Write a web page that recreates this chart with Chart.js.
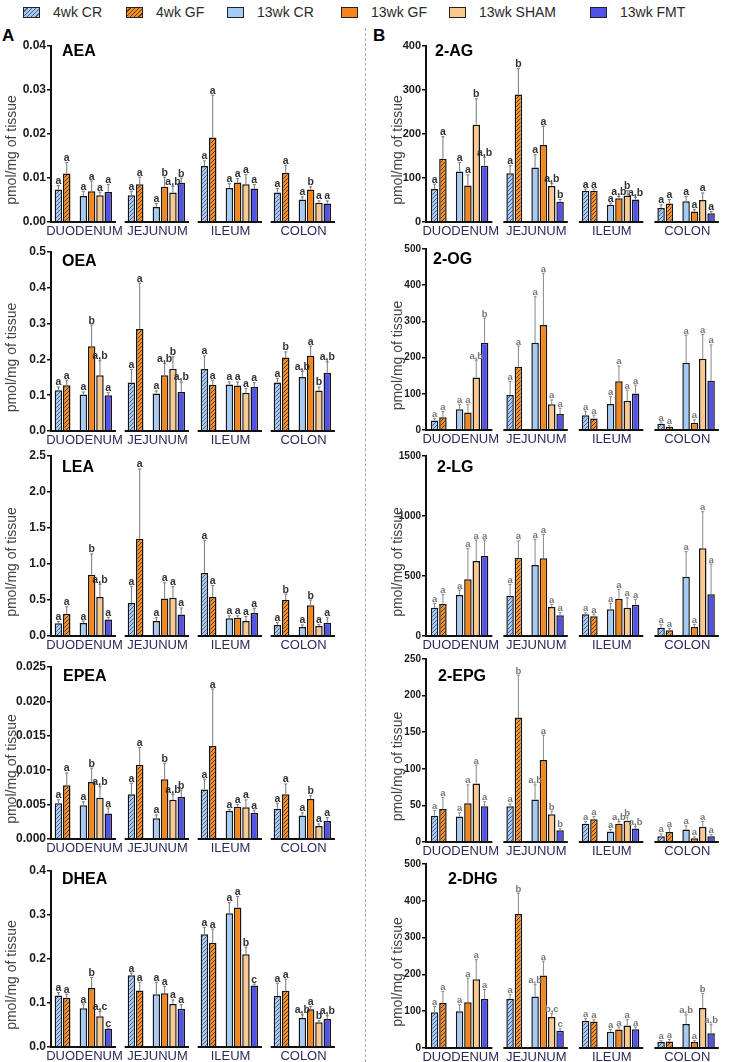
<!DOCTYPE html>
<html><head><meta charset="utf-8">
<script src="https://cdn.jsdelivr.net/npm/chart.js@4.4.0/dist/chart.umd.min.js"></script>
<style>
body{margin:0;background:#fff;width:730px;height:1062px;position:relative;overflow:hidden;font-family:"Liberation Sans",Arial,sans-serif}
canvas{position:absolute}
.lg{position:absolute;top:4px;height:16px;display:flex;align-items:center;font-size:14px;color:#2a2a2a;white-space:nowrap}
.sw{width:15px;height:9px;border:1.5px solid #222;margin-right:13px}
.lab{position:absolute;font-weight:bold;font-size:17px;color:#000}
#sep{position:absolute;left:365px;top:28px;height:1034px;width:0;border-left:1px dashed #aaa}
</style></head><body>
<div id="sep"></div>
<div class="lab" style="left:2px;top:26px">A</div>
<div class="lab" style="left:373px;top:26px">B</div>
<script>
// ---------- shared labels ----------
const categories = ['DUODENUM','JEJUNUM','ILEUM','COLON'];
const seriesNames = ['4wk CR','4wk GF','13wk CR','13wk GF','13wk SHAM','13wk FMT'];

// rows = series (4wk CR, 4wk GF, 13wk CR, 13wk GF, 13wk SHAM, 13wk FMT); cols = categories
// ---------- AEA ----------
const AEA_ticks = ['0.00','0.01','0.02','0.03','0.04'];
const AEA_mean = [[0.0074,0.0061,0.0127,0.0067],[0.0110,0.0086,0.0192,0.0112],[0.0059,0.0034,0.0077,0.0051],[0.0070,0.0080,0.0090,0.0074],[0.0061,0.0067,0.0086,0.0044],[0.0068,0.0089,0.0076,0.0042]];
const AEA_hi = [[0.0083,0.0070,0.0139,0.0076],[0.0135,0.0102,0.0288,0.0129],[0.0070,0.0042,0.0087,0.0057],[0.0093,0.0102,0.0099,0.0080],[0.0068,0.0081,0.0108,0.0048],[0.0085,0.0100,0.0085,0.0048]];
const AEA_sig = [['a','a','a','a'],['a','a','a','a'],['a','a','a','a'],['a','b','a','b'],['a','a,b','a','a'],['a','b','a','a']];
// ---------- OEA ----------
const OEA_ticks = ['0.0','0.1','0.2','0.3','0.4','0.5'];
const OEA_mean = [[0.114,0.1355,0.173,0.1355],[0.128,0.285,0.129,0.205],[0.102,0.105,0.130,0.151],[0.237,0.156,0.127,0.210],[0.156,0.174,0.107,0.113],[0.100,0.109,0.123,0.163]];
const OEA_hi = [[0.123,0.172,0.210,0.147],[0.142,0.413,0.142,0.221],[0.109,0.112,0.137,0.167],[0.296,0.189,0.137,0.237],[0.196,0.207,0.119,0.123],[0.107,0.137,0.135,0.193]];
const OEA_sig = [['a','a','a','a'],['a','a','a','b'],['a','a','a','a,b'],['b','a,b','a','a'],['a,b','b','a','b'],['a','a,b','a','a,b']];
// ---------- LEA ----------
const LEA_ticks = ['0.0','0.5','1.0','1.5','2.0','2.5'];
const LEA_mean = [[0.176,0.458,0.875,0.153],[0.31,1.35,0.54,0.50],[0.18,0.208,0.245,0.125],[0.852,0.52,0.255,0.426],[0.54,0.53,0.208,0.139],[0.23,0.30,0.32,0.185]];
const LEA_hi = [[0.20,0.69,1.33,0.185],[0.407,2.32,0.70,0.583],[0.208,0.255,0.28,0.153],[1.14,0.74,0.28,0.50],[0.72,0.685,0.27,0.162],[0.26,0.39,0.385,0.255]];
const LEA_sig = [['a','a','a','a'],['a','a','a','b'],['a','a','a','a'],['b','a','a','b'],['a,b','a','a','a'],['a','a','a','a']];
// ---------- EPEA ----------
const EPEA_ticks = ['0.000','0.005','0.010','0.015','0.020','0.025'];
const EPEA_mean = [[0.0052,0.0065,0.0072,0.0044],[0.0078,0.0108,0.0135,0.0065],[0.0049,0.0030,0.0041,0.0034],[0.0083,0.0087,0.0047,0.0058],[0.0060,0.0057,0.0046,0.0019],[0.0037,0.0061,0.0038,0.0026]];
const EPEA_hi = [[0.0057,0.0081,0.0087,0.0052],[0.0096,0.0133,0.0218,0.0080],[0.0054,0.0035,0.0043,0.0038],[0.0103,0.0110,0.0050,0.0063],[0.0076,0.0065,0.0057,0.0022],[0.0045,0.0071,0.0042,0.0031]];
const EPEA_sig = [['a','a','a','a'],['a','a','a','a'],['a','a','a','a'],['b','b','a','b'],['a,b','a,b','a','a'],['a','b','a','a']];
// ---------- DHEA ----------
const DHEA_ticks = ['0.0','0.1','0.2','0.3','0.4'];
const DHEA_mean = [[0.117,0.163,0.256,0.116],[0.112,0.1285,0.237,0.128],[0.088,0.120,0.304,0.066],[0.134,0.122,0.317,0.086],[0.070,0.0975,0.211,0.056],[0.0416,0.087,0.140,0.0635]];
const DHEA_hi = [[0.124,0.168,0.272,0.145],[0.120,0.147,0.268,0.154],[0.0975,0.147,0.328,0.073],[0.158,0.138,0.342,0.092],[0.081,0.107,0.227,0.060],[0.043,0.096,0.143,0.071]];
const DHEA_sig = [['a','a','a','a'],['a','a','a','a'],['a','a','a','a,b'],['b','a','a','a'],['a,c','a','b','b'],['c','a','c','a,b']];
// ---------- 2-AG ----------
const AG_ticks = ['0','100','200','300','400'];
const AG_mean = [[75,111,71,32],[144,290,71,42],[115,124,39,47],[83,175,54,24],[221,82,60,50],[128,46,51,20]];
const AG_hi = [[86,128,75,39],[194,349,75,51],[135,153,43,58],[107,218,58,28],[280,88,71,66],[147,51,56,24]];
const AG_sig = [['a','a','a','a'],['a','b','a','a'],['a','a','a','a'],['a','a','a,b','a'],['b','a,b','b','a'],['a,b','b','a,b','a']];
// ---------- 2-OG ----------
const OG_ticks = ['0','100','200','300','400','500'];
const OG_mean = [[26,97,41,17],[35,175,32,9],[57,241,72,186],[48,290,135,20],[145,71,81,197],[241,44,101,136]];
const OG_hi = [[32,134,52,22],[51,232,41,12],[71,368,92,262],[71,433,177,28],[193,83,110,264],[309,60,124,235]];
const OG_sig = [['a','a','a','a'],['a','a','a','a'],['a','a','a','a'],['a','a','a','a'],['a,b','a','a','a'],['b','a','a','a']];
// ---------- 2-LG ----------
const LG_ticks = ['0','500','1000','1500'];
const LG_mean = [[236,336,181,69],[267,653,164,47],[342,592,222,494],[472,647,311,75],[625,242,236,731],[667,172,261,347]];
const LG_hi = [[272,430,194,97],[347,792,183,64],[383,806,272,703],[730,847,389,97],[800,264,319,1036],[800,194,306,600]];
const LG_sig = [['a','a','a','a'],['a','a','a','a'],['a','a','a','a'],['a','a','a','a'],['a','a','a','a'],['a','a','a','a']];
// ---------- 2-EPG ----------
const EPG_ticks = ['0','50','100','150','200','250'];
const EPG_mean = [[36,49,25,7.7],[45,170,31,13.6],[35,58,14.5,17],[53,112,25,5],[80,38,29,21],[49,16,18.6,7.7]];
const EPG_hi = [[43,52,28,11],[61,228,35,19],[40,78,17,22],[78,146,28,7],[105,42,34,28],[55,18,21,10]];
const EPG_sig = [['a','a','a','a'],['a','b','a','a'],['a','a,b','a','a'],['a','a','a,b','a'],['a','b','b','a'],['a','b','a,b','a']];
// ---------- 2-DHG ----------
const DHG_ticks = ['0','100','200','300','400','500'];
const DHG_mean = [[97,134,74,16],[122,364,72,18],[100,140,44,65],[124,197,50,16],[187,84,61,109],[133,47,51,40]];
const DHG_hi = [[113,145,80,20],[154,421,77,23],[118,172,50,90],[190,236,57,20],[240,93,77,148],[159,52,57,63]];
const DHG_sig = [['a','a','a','a'],['a','b','a','a'],['a','a,b','a','a,b'],['a','a','a','a'],['a','b,c','a','b'],['a','c','a','a,b']];

// ---------- styling ----------
const FONT = '"Liberation Sans", Arial, sans-serif';
function hatch(bg, fg){
  const c=document.createElement('canvas'); c.width=c.height=4;
  const x=c.getContext('2d'); x.fillStyle=bg; x.fillRect(0,0,4,4);
  x.strokeStyle=fg; x.lineWidth=1;
  x.beginPath(); x.moveTo(-1,5); x.lineTo(5,-1); x.moveTo(3,5); x.lineTo(5,3); x.moveTo(-1,1); x.lineTo(1,-1); x.stroke();
  return x.createPattern(c,'repeat');
}
const fills = [hatch('#a9c9f0','#40609a'), hatch('#f2912a','#6a3410'), '#a6ccf5', '#f7861a', '#fbc890', '#5252e8'];
const legendCss = ['repeating-linear-gradient(135deg,#a9c9f0 0 2px,#40609a 2px 3px)','repeating-linear-gradient(135deg,#f2912a 0 2px,#6a3410 2px 3px)','#a6ccf5','#f7861a','#fbc890','#5252e8'];
const legendX = [23,126,227,341,449,590];
seriesNames.forEach((n,i)=>{
  const d=document.createElement('div'); d.className='lg'; d.style.left=legendX[i]+'px';
  d.innerHTML='<span class="sw" style="background:'+legendCss[i]+'"></span>'+n;
  document.body.appendChild(d);
});

const panelInfo = new Map();
const panelPlugin = {
  id:'panelDecor',
  afterDatasetsDraw(chart){
    const p=panelInfo.get(chart.canvas); if(!p) return;
    const ctx=chart.ctx, ca=chart.chartArea, ys=chart.scales.y;
    ctx.save();
    // broken baseline per category
    const mFirst=chart.getDatasetMeta(0), mLast=chart.getDatasetMeta(6);
    ctx.strokeStyle='#111'; ctx.lineWidth=2;
    for(let c=0;c<categories.length;c++){
      const b0=mFirst.data[c], b1=mLast.data[c];
      const x0 = c===0 ? ca.left-1 : b0.x-b0.width/2-3;
      const x1 = b1.x+b1.width/2+4;
      ctx.beginPath(); ctx.moveTo(x0,ca.bottom); ctx.lineTo(x1,ca.bottom); ctx.stroke();
    }
    // error bars + letters
    chart.data.datasets.forEach((ds,di)=>{
      if(ds.spacer) return;
      const meta=chart.getDatasetMeta(di);
      meta.data.forEach((bar,c)=>{
        const yTop=ys.getPixelForValue(p.hi[ds.si][c]);
        ctx.strokeStyle=p.errColor; ctx.lineWidth=1;
        ctx.beginPath(); ctx.moveTo(bar.x,bar.y); ctx.lineTo(bar.x,yTop);
        ctx.moveTo(bar.x-1.5,yTop); ctx.lineTo(bar.x+1.5,yTop); ctx.stroke();
        ctx.fillStyle=p.sigColor; ctx.font='bold '+p.sigSize+'px '+FONT;
        ctx.textAlign='center'; ctx.textBaseline='alphabetic';
        ctx.fillText(p.sig[ds.si][c], bar.x, yTop-1.5);
      });
    });
    // panel title
    ctx.fillStyle='#000'; ctx.font='bold 16px '+FONT; ctx.textAlign='left'; ctx.textBaseline='middle';
    ctx.fillText(p.name, p.titleX-p.col, p.titleY-(p.top-20));
    // y axis title
    ctx.translate(p.col===0?12:33, (ca.top+ca.bottom)/2+16);
    ctx.rotate(-Math.PI/2);
    ctx.fillStyle='#444'; ctx.font='14px '+FONT; ctx.textAlign='center'; ctx.textBaseline='middle';
    ctx.fillText('pmol/mg of tissue',0,0);
    ctx.restore();
  }
};

function makePanel(p){
  const left = p.col===0;
  const axisX = left ? 51 : 61;
  const catW = left ? 73 : 75.5;
  const pl = left ? 4 : 25;
  const pr = 365 - (axisX + 4*catW);
  const W=365, H=(p.bottom-p.top)+20+22;
  const cv=document.createElement('canvas');
  cv.width=W; cv.height=H;
  cv.style.left=p.col+'px'; cv.style.top=(p.top-20)+'px';
  cv.style.width=W+'px'; cv.style.height=H+'px';
  document.body.appendChild(cv);
  panelInfo.set(cv,p);
  const order=[0,1,null,2,3,4,5,null];
  const datasets=order.map(si=> si===null
    ? {data:categories.map(()=>null), spacer:true, backgroundColor:'rgba(0,0,0,0)', borderWidth:0}
    : {label:seriesNames[si], data:p.mean[si], si, backgroundColor:fills[si], borderColor:'#151515', borderWidth:1.5});
  new Chart(cv,{
    type:'bar',
    data:{labels:categories, datasets},
    options:{
      responsive:false, animation:false,
      layout:{padding:{top:20,left:pl,right:pr,bottom:2}},
      datasets:{bar:{categoryPercentage: left?0.91:0.883, barPercentage:0.9}},
      plugins:{legend:{display:false}, tooltip:{enabled:false}},
      scales:{
        x:{grid:{display:false, drawTicks:false}, border:{display:false},
           ticks:{color:'#2c2c5c', font:{size:13,family:FONT}, padding:2, labelOffset:-3, maxRotation:0, autoSkip:false},
           afterFit(s){ s.height=20; s.paddingLeft=0; s.paddingRight=0; }},
        y:{min:0, max:p.max,
           ticks:{stepSize:p.step, callback:(v,i)=>p.ticks[i], color:'#1a1a1a', font:{size:p.tickSize, weight:'bold', family:FONT}, padding:1},
           grid:{display:true, drawOnChartArea:false, drawTicks:true, tickLength:4, color:'#111', lineWidth:1.5},
           border:{display:true, color:'#111', width:2},
           afterFit(s){ s.width=axisX-pl; s.paddingTop=0; s.paddingBottom=0; }}
      }
    },
    plugins:[panelPlugin]
  });
}

const L={col:0, tickSize:12, sigSize:10.5, sigColor:'#333', errColor:'#777'};
const R={col:365, tickSize:10, sigSize:9.5, sigColor:'#777', errColor:'#888'};
makePanel({...L, name:'AEA', top:46, bottom:222, max:0.04, step:0.01, ticks:AEA_ticks, mean:AEA_mean, hi:AEA_hi, sig:AEA_sig, titleX:62, titleY:52});
makePanel({...L, name:'OEA', top:252, bottom:431, max:0.5, step:0.1, ticks:OEA_ticks, mean:OEA_mean, hi:OEA_hi, sig:OEA_sig, titleX:62, titleY:262});
makePanel({...L, name:'LEA', top:456, bottom:636, max:2.5, step:0.5, ticks:LEA_ticks, mean:LEA_mean, hi:LEA_hi, sig:LEA_sig, titleX:62, titleY:468});
makePanel({...L, name:'EPEA', top:667, bottom:839, max:0.025, step:0.005, ticks:EPEA_ticks, mean:EPEA_mean, hi:EPEA_hi, sig:EPEA_sig, titleX:63, titleY:677});
makePanel({...L, name:'DHEA', top:871, bottom:1047, max:0.4, step:0.1, ticks:DHEA_ticks, mean:DHEA_mean, hi:DHEA_hi, sig:DHEA_sig, titleX:62, titleY:880});
makePanel({...R, tickSize:11, sigSize:10.5, sigColor:'#333', errColor:'#777', name:'2-AG', top:46, bottom:222, max:400, step:100, ticks:AG_ticks, mean:AG_mean, hi:AG_hi, sig:AG_sig, titleX:435, titleY:52});
makePanel({...R, name:'2-OG', top:249, bottom:430, max:500, step:100, ticks:OG_ticks, mean:OG_mean, hi:OG_hi, sig:OG_sig, titleX:433, titleY:260});
makePanel({...R, name:'2-LG', top:456, bottom:636, max:1500, step:500, ticks:LG_ticks, mean:LG_mean, hi:LG_hi, sig:LG_sig, titleX:437, titleY:468});
makePanel({...R, name:'2-EPG', top:659, bottom:842, max:250, step:50, ticks:EPG_ticks, mean:EPG_mean, hi:EPG_hi, sig:EPG_sig, titleX:438, titleY:677});
makePanel({...R, name:'2-DHG', top:864, bottom:1048, max:500, step:100, ticks:DHG_ticks, mean:DHG_mean, hi:DHG_hi, sig:DHG_sig, titleX:448, titleY:880});
</script>
</body></html>
